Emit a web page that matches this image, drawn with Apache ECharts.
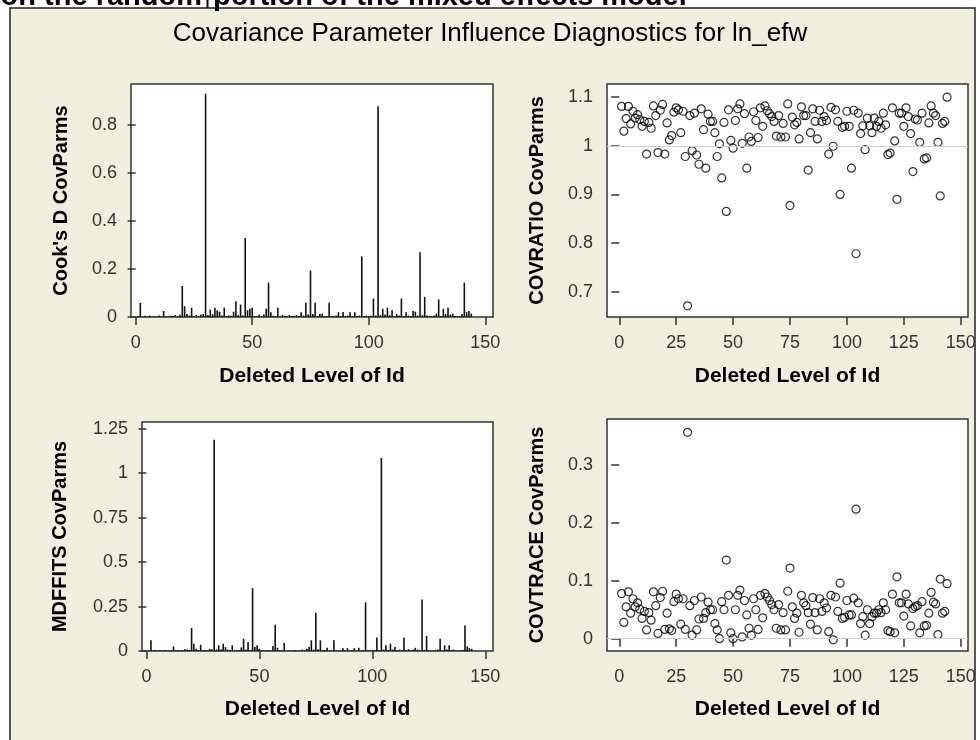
<!DOCTYPE html>
<html><head><meta charset="utf-8">
<script src="https://cdn.jsdelivr.net/npm/echarts@6/dist/echarts.min.js"></script>
<style>html,body{margin:0;padding:0;background:#fff;}#c{width:980px;height:740px;}</style>
</head><body><div id="c"></div>
<script>
// Deleted level of Id: 1..144
const N = 144;
const ids = Array.from({length: N}, (_, i) => i + 1);

const cookD = [
0.004,0.059,0.002,0.005,0.002,0.006,0.002,0.003,0.002,0.006,
0.003,0.025,0.003,0.002,0.005,0.004,0.008,0.004,0.009,0.129,
0.045,0.012,0.006,0.039,0.004,0.008,0.005,0.010,0.012,0.930,
0.008,0.031,0.012,0.039,0.028,0.022,0.006,0.039,0.004,0.006,
0.005,0.022,0.066,0.008,0.052,0.006,0.329,0.028,0.034,0.039,
0.004,0.003,0.010,0.004,0.010,0.034,0.143,0.020,0.005,0.004,
0.039,0.003,0.008,0.004,0.003,0.008,0.004,0.003,0.008,0.004,
0.020,0.006,0.059,0.010,0.193,0.012,0.059,0.004,0.014,0.014,
0.004,0.003,0.059,0.004,0.003,0.006,0.020,0.004,0.021,0.004,
0.006,0.020,0.004,0.020,0.004,0.006,0.252,0.004,0.006,0.003,
0.005,0.077,0.006,0.877,0.008,0.034,0.010,0.039,0.008,0.028,
0.004,0.012,0.006,0.077,0.004,0.020,0.006,0.004,0.025,0.022,
0.006,0.270,0.008,0.084,0.006,0.004,0.003,0.006,0.014,0.073,
0.004,0.034,0.012,0.039,0.010,0.014,0.004,0.003,0.004,0.012,
0.143,0.020,0.025,0.014];

const mdffits = [
0.004,0.060,0.003,0.006,0.003,0.005,0.003,0.006,0.003,0.004,
0.004,0.026,0.004,0.006,0.004,0.006,0.010,0.008,0.006,0.129,
0.041,0.012,0.006,0.035,0.004,0.006,0.004,0.012,0.010,1.188,
0.008,0.032,0.010,0.041,0.022,0.008,0.006,0.032,0.004,0.005,
0.004,0.020,0.069,0.008,0.050,0.006,0.353,0.022,0.032,0.012,
0.004,0.003,0.004,0.006,0.004,0.028,0.147,0.018,0.004,0.004,
0.045,0.003,0.004,0.003,0.003,0.006,0.003,0.004,0.008,0.004,
0.012,0.022,0.060,0.008,0.215,0.010,0.060,0.004,0.006,0.018,
0.004,0.004,0.060,0.004,0.003,0.004,0.016,0.004,0.016,0.004,
0.004,0.016,0.004,0.018,0.004,0.006,0.274,0.004,0.004,0.003,
0.006,0.076,0.006,1.086,0.008,0.032,0.006,0.041,0.008,0.022,
0.004,0.008,0.004,0.076,0.004,0.010,0.004,0.008,0.018,0.008,
0.004,0.289,0.006,0.084,0.004,0.003,0.004,0.006,0.008,0.069,
0.004,0.032,0.008,0.032,0.006,0.008,0.003,0.004,0.003,0.006,
0.144,0.026,0.016,0.012];

const covratio = [
1.081,1.030,1.056,1.081,1.045,1.071,1.057,1.064,1.054,1.040,
1.050,0.983,1.048,1.036,1.082,1.062,0.986,1.073,1.085,0.983,
1.047,1.012,1.021,1.069,1.078,1.074,1.027,1.071,0.978,0.671,
1.062,0.990,1.067,0.981,0.962,1.076,1.033,0.954,1.065,1.050,
1.050,1.027,0.978,1.004,0.934,1.048,0.865,1.074,1.011,0.995,
1.052,1.076,1.086,1.005,1.066,0.954,1.018,1.009,1.070,1.052,
1.017,1.078,1.040,1.082,1.072,1.066,1.060,1.050,1.020,1.062,
1.018,1.046,1.018,1.086,0.877,1.059,1.043,1.048,1.014,1.080,
1.062,1.062,0.950,1.027,1.076,1.050,1.014,1.073,1.050,1.060,
1.052,0.983,1.079,0.999,1.074,1.050,0.900,1.038,1.040,1.071,
1.040,0.954,1.073,0.778,1.067,1.025,1.041,0.992,1.057,1.041,
1.027,1.057,1.040,1.050,1.036,1.067,1.043,0.982,0.985,1.078,
1.010,0.890,1.067,1.067,1.040,1.078,1.060,1.025,0.947,1.055,
1.053,1.007,1.067,0.973,0.975,1.047,1.082,1.067,1.062,1.007,
0.897,1.046,1.050,1.100];

const covtrace = [
0.078,0.028,0.055,0.081,0.044,0.069,0.055,0.062,0.051,0.035,
0.047,0.015,0.045,0.032,0.081,0.057,0.009,0.071,0.082,0.016,
0.044,0.017,0.014,0.064,0.077,0.069,0.025,0.069,0.016,0.357,
0.057,0.006,0.066,0.015,0.034,0.072,0.035,0.045,0.063,0.050,
0.050,0.026,0.015,0.000,0.064,0.050,0.136,0.075,0.010,0.000,
0.050,0.075,0.084,0.003,0.066,0.041,0.018,0.006,0.069,0.050,
0.016,0.075,0.036,0.078,0.072,0.066,0.059,0.050,0.018,0.059,
0.015,0.045,0.015,0.082,0.122,0.055,0.035,0.044,0.011,0.075,
0.062,0.057,0.045,0.025,0.071,0.045,0.015,0.069,0.047,0.062,
0.053,0.012,0.075,-0.002,0.072,0.047,0.096,0.035,0.037,0.066,
0.041,0.041,0.070,0.224,0.062,0.026,0.038,0.006,0.050,0.026,
0.038,0.044,0.044,0.050,0.045,0.062,0.050,0.014,0.012,0.077,
0.010,0.107,0.062,0.062,0.039,0.077,0.060,0.022,0.052,0.055,
0.057,0.010,0.064,0.022,0.023,0.044,0.080,0.063,0.060,0.007,
0.103,0.044,0.047,0.095];

const xTicksA = [0, 50, 100, 150];
const xTicksB = [0, 25, 50, 75, 100, 125, 150];
const yTicksCook = [0, 0.2, 0.4, 0.6, 0.8];
const yTicksRatio = [0.7, 0.8, 0.9, 1, 1.1];
const yTicksMdf = [0, 0.25, 0.5, 0.75, 1, 1.25];
const yTicksTrace = [0, 0.1, 0.2, 0.3];

const titleText = 'Covariance Parameter Influence Diagnostics for ln_efw';
const topTextA = 'on the random';
const topTextB = 'portion of the mixed effects model';
const xName = 'Deleted Level of Id';
const yNames = ["Cook's D CovParms", 'COVRATIO CovParms', 'MDFFITS CovParms', 'COVTRACE CovParms'];

const FONT = '"Liberation Sans", Arial, sans-serif';
const pair = arr => arr.map((v, i) => [ids[i], v]);

function xAxis(gi, min, max, ticks, gap) {
  return {
    type: 'value', gridIndex: gi, min: min, max: max,
    axisLine: {show: false}, splitLine: {show: false},
    axisTick: {show: true, length: 8, lineStyle: {color: '#333', width: 1.5}, customValues: ticks},
    axisLabel: {fontFamily: FONT, fontSize: 18, color: '#333', margin: 17, customValues: ticks},
    name: xName, nameLocation: 'middle', nameGap: gap,
    nameTextStyle: {fontFamily: FONT, fontSize: 21, fontWeight: 'bold', color: '#000'}
  };
}
function yAxis(gi, min, max, ticks, name, gap) {
  return {
    type: 'value', gridIndex: gi, min: min, max: max,
    axisLine: {show: false}, splitLine: {show: false},
    axisTick: {show: true, length: 8, lineStyle: {color: '#333', width: 1.5}, customValues: ticks},
    axisLabel: {fontFamily: FONT, fontSize: 18, color: '#333', margin: 14, customValues: ticks,
      formatter: v => String(+v.toFixed(4))},
    name: name, nameLocation: 'middle', nameGap: gap, nameRotate: 90,
    nameTextStyle: {fontFamily: FONT, fontSize: 20, fontWeight: 'bold', color: '#000'}
  };
}
const gridStyle = {show: true, borderColor: '#333', borderWidth: 1.5, backgroundColor: '#fff', containLabel: false};

const chart = echarts.init(document.getElementById('c'), null, {renderer: 'canvas'});
chart.setOption({
  animation: false,
  backgroundColor: 'transparent',
  title: {text: titleText, left: 'center', top: 16,
    textStyle: {fontFamily: FONT, fontSize: 26, fontWeight: 'normal', color: '#000'}},
  graphic: [
    {type: 'rect', z: -100, shape: {x: 10, y: 8, width: 965, height: 760},
      style: {fill: '#F0EEDC', stroke: '#222', lineWidth: 1.5}},
    {type: 'text', z: 10, style: {x: 202, y: 11, text: topTextA, textAlign: 'right', textVerticalAlign: 'bottom',
      font: 'bold 29px "Liberation Sans", Arial, sans-serif', fill: '#000'}},
    {type: 'text', z: 10, style: {x: 213, y: 11, text: topTextB, textAlign: 'left', textVerticalAlign: 'bottom',
      font: 'bold 29px "Liberation Sans", Arial, sans-serif', fill: '#000'}},
    {type: 'line', z: 11, shape: {x1: 207.5, y1: 0, x2: 207.5, y2: 8}, style: {stroke: '#000', lineWidth: 2}}
  ],
  grid: [
    Object.assign({left: 131, top: 84, width: 362, height: 233}, gridStyle),
    Object.assign({left: 607, top: 84, width: 361, height: 233}, gridStyle),
    Object.assign({left: 142, top: 422, width: 351, height: 229}, gridStyle),
    Object.assign({left: 607, top: 419, width: 361, height: 232}, gridStyle)
  ],
  xAxis: [
    xAxis(0, -2.0, 153.3, xTicksA, 49),
    xAxis(1, -5.4, 153.2, xTicksB, 49),
    xAxis(2, -1.95, 153.4, xTicksA, 48),
    xAxis(3, -5.4, 153.2, xTicksB, 48)
  ],
  yAxis: [
    yAxis(0, 0, 0.97, yTicksCook, yNames[0], 60),
    yAxis(1, 0.648, 1.127, yTicksRatio, yNames[1], 60),
    yAxis(2, 0, 1.288, yTicksMdf, yNames[2], 72),
    yAxis(3, -0.0214, 0.38, yTicksTrace, yNames[3], 60)
  ],
  series: [
    {type: 'bar', xAxisIndex: 0, yAxisIndex: 0, data: pair(cookD), barWidth: 1.6,
      itemStyle: {color: '#111'}, silent: true},
    {type: 'scatter', xAxisIndex: 1, yAxisIndex: 1, data: pair(covratio), symbol: 'circle', symbolSize: 8,
      itemStyle: {color: 'rgba(0,0,0,0)', borderColor: '#000', borderWidth: 1.2}, silent: true,
      markLine: {silent: true, symbol: 'none', label: {show: false}, data: [{yAxis: 1}],
        lineStyle: {color: '#cfcfcf', width: 1, type: 'solid'}}},
    {type: 'bar', xAxisIndex: 2, yAxisIndex: 2, data: pair(mdffits), barWidth: 1.6,
      itemStyle: {color: '#111'}, silent: true},
    {type: 'scatter', xAxisIndex: 3, yAxisIndex: 3, data: pair(covtrace), symbol: 'circle', symbolSize: 8,
      itemStyle: {color: 'rgba(0,0,0,0)', borderColor: '#000', borderWidth: 1.2}, silent: true,
      markLine: {silent: true, symbol: 'none', label: {show: false}, data: [{yAxis: 0}],
        lineStyle: {color: '#cfcfcf', width: 1, type: 'solid'}}}
  ]
});
</script></body></html>
